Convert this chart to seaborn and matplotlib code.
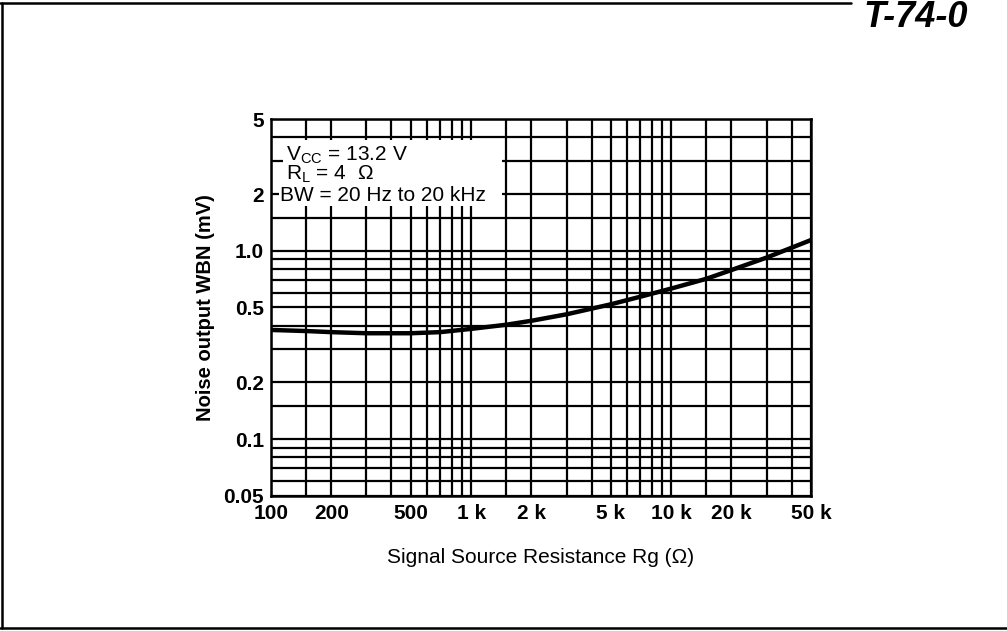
import numpy as np
import pandas as pd
import seaborn as sns
import matplotlib.pyplot as plt
from matplotlib.lines import Line2D
from matplotlib.patches import Rectangle

# Noise output vs signal source resistance
rg_ohm = [100, 150, 200, 300, 500, 700, 1000, 1500, 2000, 3000,
          5000, 7000, 10000, 15000, 20000, 30000, 50000]
noise_mv = [0.38, 0.375, 0.37, 0.365, 0.365, 0.37, 0.385, 0.405, 0.425, 0.46,
            0.52, 0.57, 0.63, 0.71, 0.79, 0.92, 1.14]

# grid lines of the log paper
x_grid = [100, 150, 200, 300, 400, 500, 600, 700, 800, 900, 1000,
          1500, 2000, 3000, 4000, 5000, 6000, 7000, 8000, 9000, 10000,
          15000, 20000, 30000, 40000, 50000]
y_grid = [0.05, 0.06, 0.07, 0.08, 0.09, 0.1, 0.15, 0.2, 0.3, 0.4, 0.5,
          0.6, 0.7, 0.8, 0.9, 1.0, 1.5, 2, 3, 4, 5]

x_labels = {100: "100", 200: "200", 500: "500", 1000: "1 k", 2000: "2 k",
            5000: "5 k", 10000: "10 k", 20000: "20 k", 50000: "50 k"}
y_labels = {0.05: "0.05", 0.1: "0.1", 0.2: "0.2", 0.5: "0.5", 1.0: "1.0",
            2: "2", 5: "5"}

df = pd.DataFrame({"rg": rg_ohm, "noise": noise_mv})

sns.set_style("white")
plt.rcParams['font.family'] = ['Liberation Sans', 'DejaVu Sans']
plt.rcParams['mathtext.fontset'] = 'custom'
plt.rcParams['mathtext.rm'] = 'Liberation Sans'
plt.rcParams['text.color'] = 'black'
plt.rcParams['axes.labelcolor'] = 'black'

fig, ax = plt.subplots(figsize=(10.07, 6.31), dpi=100)
fig.subplots_adjust(left=0.2691, right=0.8054, top=0.8114, bottom=0.2140)

sns.lineplot(data=df, x="rg", y="noise", color="black", linewidth=3.2, ax=ax, zorder=3)

ax.set_xscale("log")
ax.set_yscale("log")
ax.set_xlim(100, 50000)
ax.set_ylim(0.05, 5)

ax.set_xticks(x_grid)
ax.set_xticklabels([x_labels.get(v, "") for v in x_grid])
ax.set_yticks(y_grid)
ax.set_yticklabels([y_labels.get(v, "") for v in y_grid])
ax.minorticks_off()
ax.tick_params(axis="both", length=0, labelsize=15, colors="black")
ax.tick_params(axis="x", pad=6)
ax.tick_params(axis="y", pad=5)
for lbl in ax.get_xticklabels() + ax.get_yticklabels():
    lbl.set_fontweight("bold")

ax.grid(True, color="black", linewidth=1.6)
ax.set_axisbelow(True)
for sp in ax.spines.values():
    sp.set_color("black")
    sp.set_linewidth(1.8)
    sp.set_visible(True)

ax.set_xlabel("Signal Source Resistance Rg (\u03a9)", fontsize=15, labelpad=18)
ax.set_ylabel("Noise output WBN (mV)", fontsize=14.5, fontweight="bold", labelpad=6)

# white box holding the test conditions
ax.add_patch(Rectangle((0.022, 0.777), 0.406, 0.167, transform=ax.transAxes,
                       facecolor="white", edgecolor="none", zorder=2))
ax.text(0.028, 0.905, r"V$_{\rm CC}$ = 13.2 V", transform=ax.transAxes,
        fontsize=15, va="center", ha="left", zorder=4)
ax.text(0.028, 0.853, "R$_{\\rm L}$ = 4  \u03a9", transform=ax.transAxes,
        fontsize=15, va="center", ha="left", zorder=4)
ax.text(0.017, 0.797, "BW = 20 Hz to 20 kHz", transform=ax.transAxes,
        fontsize=15, va="center", ha="left", zorder=4,
        bbox=dict(facecolor="white", edgecolor="none", pad=1))

# page frame of the scanned sheet
fig.add_artist(Line2D([0.0, 0.845], [0.995, 0.995], color="black", linewidth=1.8))
fig.add_artist(Line2D([0.002, 0.002], [0.005, 0.995], color="black", linewidth=1.8))
fig.add_artist(Line2D([0.0, 1.0], [0.005, 0.005], color="black", linewidth=1.8))
fig.text(0.857, 0.972, "T-74-0", fontsize=26, style="italic", fontweight="bold",
         va="center", ha="left")

plt.savefig("out.png", dpi=100)
